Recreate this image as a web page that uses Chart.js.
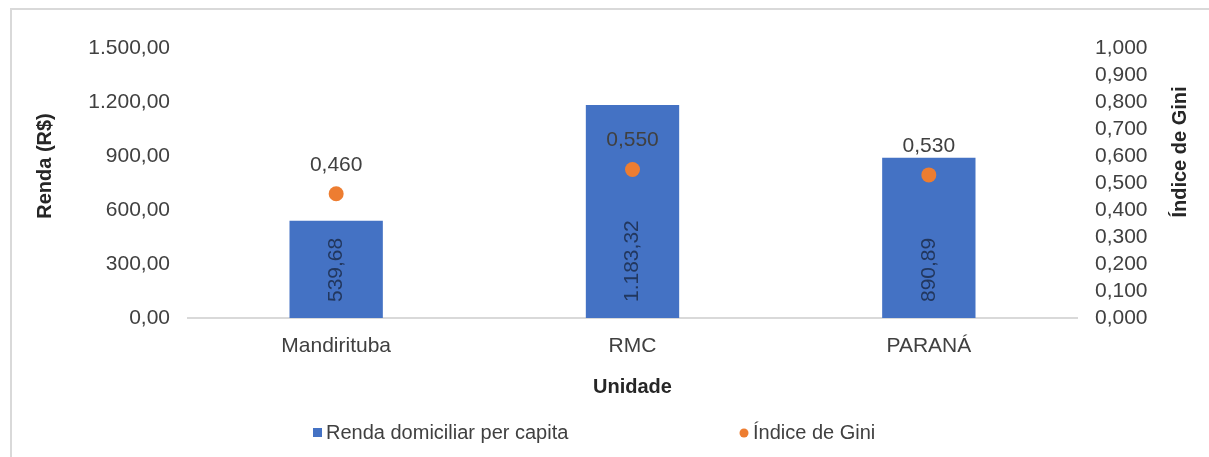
<!DOCTYPE html>
<html lang="pt-BR">
<head>
<meta charset="utf-8">
<script src="https://cdn.jsdelivr.net/npm/chart.js@4/dist/chart.umd.min.js"></script>
<style>
    html, body { margin: 0; padding: 0; background: #ffffff; overflow: hidden; }
    #moldura {
        position: absolute; left: 10px; top: 8px;
        width: 1300px; height: 600px;
        border: 2px solid #d9d9d9;
    }
    #grafico { position: absolute; left: 0; top: 0; }
</style>
</head>
<body>
<div id="moldura"></div>
<canvas id="grafico" width="1209" height="457"></canvas>
<script>
// ------------------------------------------------------------------
// DADOS
// ------------------------------------------------------------------
const UNIDADES = ["Mandirituba", "RMC", "PARANÁ"];
const RENDA = [539.68, 1183.32, 890.89];
const GINI = [0.460, 0.550, 0.530];

// eixos: minimo, maximo, passo
const EIXO_RENDA = [0, 1500, 300];
const EIXO_GINI = [0, 1, 0.1];

const AZUL = "#4472c4";
const LARANJA = "#ed7d31";
const TEXTO = "#404040";
const FONTE = "'Liberation Sans', Arial, sans-serif";

// ------------------------------------------------------------------
// formato pt-BR: 1.183,32
function fmt(v, casas) {
    const partes = Math.abs(v).toFixed(casas).split(".");
    partes[0] = partes[0].replace(/\B(?=(\d{3})+(?!\d))/g, ".");
    return (v < 0 ? "-" : "") + partes.join(",");
}

// ------------------------------------------------------------------
// rotulos, titulos dos eixos e legenda
const rotulosPlugin = {
    id: "rotulos",
    afterDatasetsDraw(chart) {
        const ctx = chart.ctx;
        ctx.save();
        ctx.font = "21px " + FONTE;

        // valores das barras (dentro, junto da base)
        const barras = chart.getDatasetMeta(1).data;
        barras.forEach((el, i) => {
            ctx.save();
            ctx.translate(el.x, el.base - 16);
            ctx.rotate(-Math.PI / 2);
            ctx.fillStyle = "#22375e";
            ctx.textAlign = "left";
            ctx.textBaseline = "middle";
            ctx.fillText(fmt(RENDA[i], 2), 0, 0);
            ctx.restore();
        });

        // valores do Gini (acima dos pontos)
        const pontos = chart.getDatasetMeta(0).data;
        pontos.forEach((el, i) => {
            ctx.fillStyle = TEXTO;
            ctx.textAlign = "center";
            ctx.textBaseline = "middle";
            ctx.fillText(fmt(GINI[i], 3), el.x, el.y - 29);
        });
        ctx.restore();
    },
    afterDraw(chart) {
        const ctx = chart.ctx;
        const area = chart.chartArea;
        ctx.save();
        ctx.fillStyle = "#262626";
        ctx.font = "bold 20px " + FONTE;
        ctx.textAlign = "center";
        ctx.textBaseline = "middle";

        const vertical = (txt, x, y) => {
            ctx.save();
            ctx.translate(x, y);
            ctx.rotate(-Math.PI / 2);
            ctx.fillText(txt, 0, 0);
            ctx.restore();
        };
        vertical("Renda (R$)", 45, 166);
        vertical("Índice de Gini", 1180, 152);
        ctx.fillText("Unidade", (area.left + area.right) / 2, 387);

        // legenda
        ctx.font = "20px " + FONTE;
        ctx.textAlign = "left";
        ctx.fillStyle = AZUL;
        ctx.fillRect(313, 428, 9, 9);
        ctx.fillStyle = TEXTO;
        ctx.fillText(chart.data.datasets[1].label, 326, 433);

        ctx.fillStyle = LARANJA;
        ctx.beginPath();
        ctx.arc(744, 433, 4.5, 0, Math.PI * 2);
        ctx.fill();
        ctx.fillStyle = TEXTO;
        ctx.fillText(chart.data.datasets[0].label, 753, 433);
        ctx.restore();
    }
};

// ------------------------------------------------------------------
const ctx = document.getElementById("grafico").getContext("2d");

new Chart(ctx, {
    data: {
        labels: UNIDADES,
        datasets: [
            {
                type: "line",
                label: "Índice de Gini",
                data: GINI,
                yAxisID: "y2",
                order: 0,
                showLine: false,
                pointRadius: 7.5,
                pointHoverRadius: 7.5,
                pointBorderWidth: 0,
                backgroundColor: LARANJA,
                borderColor: LARANJA
            },
            {
                type: "bar",
                label: "Renda domiciliar per capita",
                data: RENDA,
                yAxisID: "y",
                order: 1,
                backgroundColor: AZUL,
                barPercentage: 0.315,
                categoryPercentage: 1
            }
        ]
    },
    options: {
        responsive: false,
        animation: false,
        devicePixelRatio: 1,
        layout: { padding: { top: 48, left: 0, right: 0, bottom: 0 } },
        plugins: {
            legend: { display: false },
            tooltip: { enabled: false }
        },
        scales: {
            x: {
                grid: { display: false },
                border: { display: true, color: "#d9d9d9", width: 2 },
                ticks: {
                    color: TEXTO,
                    font: { family: FONTE, size: 21 },
                    padding: 8
                },
                afterFit: s => { s.height = 139; }
            },
            y: {
                position: "left",
                min: EIXO_RENDA[0],
                max: EIXO_RENDA[1],
                grid: { display: false },
                border: { display: false },
                ticks: {
                    stepSize: EIXO_RENDA[2],
                    autoSkip: false,
                    color: TEXTO,
                    font: { family: FONTE, size: 21 },
                    padding: 10,
                    callback: v => fmt(v, 2)
                },
                afterFit: s => { s.width = 188; }
            },
            y2: {
                position: "right",
                min: EIXO_GINI[0],
                max: EIXO_GINI[1],
                grid: { display: false },
                border: { display: false },
                ticks: {
                    stepSize: EIXO_GINI[2],
                    autoSkip: false,
                    color: TEXTO,
                    font: { family: FONTE, size: 21 },
                    padding: 10,
                    callback: v => fmt(v, 3)
                },
                afterFit: s => { s.width = 132; }
            }
        }
    },
    plugins: [rotulosPlugin]
});
</script>
</body>
</html>
